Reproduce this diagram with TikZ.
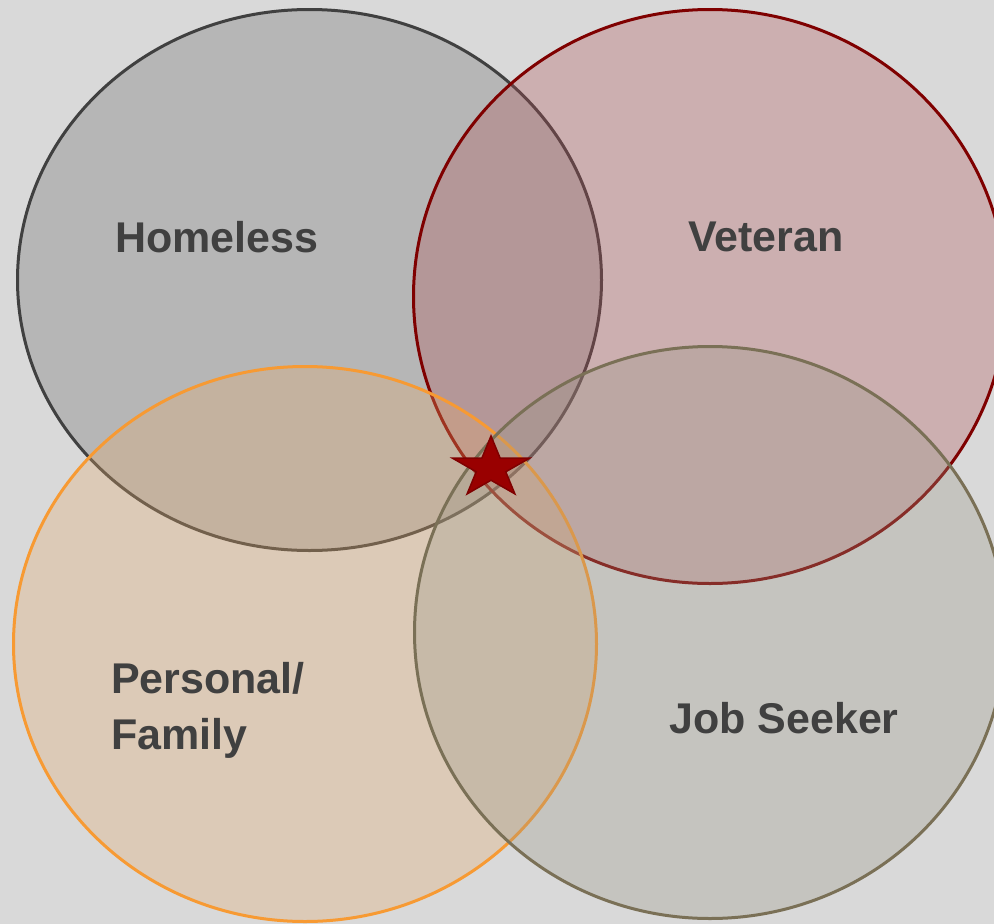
\documentclass[tikz,border=0pt]{standalone}
\usepackage{fontspec}
\setmainfont{Liberation Sans}
\usetikzlibrary{shapes.geometric}
\definecolor{bggray}{HTML}{D9D9D9}
\definecolor{labelgray}{HTML}{404040}
\definecolor{homelessline}{HTML}{404040}
\definecolor{homelessfill}{HTML}{686868}
\definecolor{veteranline}{HTML}{7F0000}
\definecolor{veteranfill}{HTML}{B15054}
\definecolor{familyline}{HTML}{F79A33}
\definecolor{familyfill}{HTML}{E6AA6B}
\definecolor{seekerline}{HTML}{7A7056}
\definecolor{seekerfill}{HTML}{999686}
\definecolor{starred}{HTML}{990000}
\definecolor{stardark}{HTML}{7F0000}
\tikzset{
  setshape/.style={ellipse, line width=3pt, inner sep=0pt, fill opacity=0.3, draw opacity=1},
  setlabel/.style={font=\fontsize{43}{56}\selectfont\bfseries, text=labelgray, align=left, inner sep=0pt},
  starmark/.style={star, star points=5, star point ratio=2.618, fill=starred, draw=stardark, line width=1.5pt, inner sep=0pt}
}
\begin{document}
\begin{tikzpicture}[x=1pt,y=-1pt]
  \fill[bggray] (0,0) rectangle (994,924);
  \useasboundingbox (0,0) rectangle (994,924);
  \clip (0,0) rectangle (994,924);
  % the four sets
  \node[setshape, draw=homelessline, fill=homelessfill, minimum width=584pt, minimum height=541pt] (homeless) at (309.5,280) {};
  \node[setshape, draw=veteranline, fill=veteranfill, minimum width=593pt, minimum height=574pt] (veteran) at (710,296.5) {};
  \node[setshape, draw=familyline, fill=familyfill, minimum width=583pt, minimum height=555pt] (family) at (305,644) {};
  \node[setshape, draw=seekerline, fill=seekerfill, minimum width=591pt, minimum height=572pt] (seeker) at (710,632.5) {};
  % labels
  \node[setlabel] (homelesslabel) at (217,237) {Homeless};
  \node[setlabel] (veteranlabel) at (766,237) {Veteran};
  \node[setlabel, anchor=west] (familylabel) at (111,710) {Personal/\\Family};
  \node[setlabel] (seekerlabel) at (784,718) {Job Seeker};
  % the centre
  \node[starmark, minimum size=64pt, xscale=1.27, transform shape] (star) at (491,468) {};
\end{tikzpicture}
\end{document}
